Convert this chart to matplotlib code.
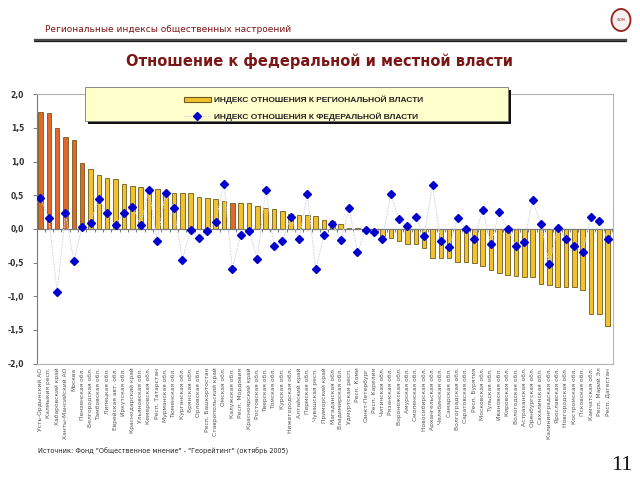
import numpy as np
import matplotlib
matplotlib.use("Agg")
import matplotlib.pyplot as plt
from matplotlib.patches import Rectangle, Ellipse
from matplotlib.lines import Line2D

regions = [
    "Усть-Ордынский АО", "Калмыкия респ.", "Хабаровский край", "Ханты-Мансийский АО", "Москва",
    "Пензенская обл.", "Белгородская обл.", "Тамбовская обл.", "Липецкая обл.", "Еврейская авт. обл.",
    "Иркутская обл.", "Краснодарский край", "Ульяновская обл.", "Кемеровская обл.", "Респ. Татарстан",
    "Мурманская обл.", "Тюменская обл.", "Курганская обл.", "Брянская обл.", "Орловская обл.",
    "Респ. Башкортостан", "Ставропольский край", "Омская обл.", "Калужская обл.", "Респ. Мордовия",
    "Красноярский край", "Ростовская обл.", "Тверская обл.", "Томская обл.", "Курская обл.",
    "Нижегородская обл.", "Алтайский край", "Пермская обл.", "Чувашская респ.", "Приморский край",
    "Магаданская обл.", "Владимирская обл.", "Удмуртская респ.", "Респ. Коми", "Санкт-Петербург",
    "Респ. Карелия", "Читинская обл.", "Рязанская обл.", "Воронежская обл.", "Амурская обл.",
    "Смоленская обл.", "Новосибирская обл.", "Архангельская обл.", "Челябинская обл.", "Самарская обл.",
    "Волгоградская обл.", "Саратовская обл.", "Респ. Бурятия", "Московская обл.", "Тульская обл.",
    "Ивановская обл.", "Кировская обл.", "Вологодская обл.", "Астраханская обл.", "Оренбургская обл.",
    "Сахалинская обл.", "Калининградская обл.", "Ярославская обл.", "Новгородская обл.", "Костромская обл.",
    "Псковская обл.", "Камчатская обл.", "Респ. Марий Эл", "Респ. Дагестан",
]

regional_index = [
    1.73, 1.72, 1.50, 1.36, 1.32, 0.98, 0.89, 0.80, 0.76, 0.74,
    0.66, 0.64, 0.63, 0.60, 0.59, 0.545, 0.54, 0.53, 0.53, 0.475,
    0.465, 0.45, 0.41, 0.385, 0.385, 0.38, 0.34, 0.31, 0.30, 0.27,
    0.22, 0.20, 0.20, 0.19, 0.13, 0.11, 0.08, 0.02, 0.01, -0.01,
    -0.05, -0.10, -0.13, -0.18, -0.22, -0.22, -0.28, -0.43, -0.43, -0.435,
    -0.485, -0.495, -0.51, -0.555, -0.61, -0.65, -0.69, -0.70, -0.71, -0.71,
    -0.82, -0.84, -0.86, -0.87, -0.87, -0.91, -1.26, -1.27, -1.44,
]

federal_index = [
    0.455, 0.16, -0.94, 0.23, -0.475, 0.03, 0.094, 0.45, 0.23, 0.055,
    0.24, 0.33, 0.065, 0.58, -0.18, 0.54, 0.31, -0.465, -0.01, -0.14,
    -0.035, 0.10, 0.67, -0.59, -0.085, -0.035, -0.445, 0.58, -0.26, -0.18,
    0.18, -0.15, 0.525, -0.60, -0.09, 0.08, -0.17, 0.31, -0.35, -0.01,
    -0.05, -0.155, 0.515, 0.14, 0.04, 0.17, -0.11, 0.65, -0.18, -0.27,
    0.16, 0.0, -0.155, 0.28, -0.23, 0.25, 0.0, -0.25, -0.19, 0.43,
    0.07, -0.525, 0.015, -0.15, -0.26, -0.34, 0.18, 0.12, -0.15,
]

highlighted = [0, 1, 2, 3, 4, 5, 23]

y_ticks = [2.0, 1.5, 1.0, 0.5, 0.0, -0.5, -1.0, -1.5, -2.0]
y_tick_labels = ["2,0", "1,5", "1,0", "0,5", "0,0", "-0,5", "-1,0", "-1,5", "-2,0"]

legend_labels = ["ИНДЕКС ОТНОШЕНИЯ К РЕГИОНАЛЬНОЙ ВЛАСТИ",
                 "ИНДЕКС ОТНОШЕНИЯ К ФЕДЕРАЛЬНОЙ ВЛАСТИ"]

header = "Региональные индексы общественных настроений"
title = "Отношение к федеральной и местной власти"
source = "Источник: Фонд \"Общественное мнение\" - \"Георейтинг\" (октябрь 2005)"
page = "11"

YELLOW = "#F2C22E"
ORANGE = "#E2672A"
EDGE = "#6E5C1E"
BLUE = "#0000CC"
MAROON = "#7A1616"

fig = plt.figure(figsize=(6.4, 4.8), dpi=100)
fig.patch.set_facecolor("white")

# header
fig.text(45 / 640, 1 - 30 / 480, header, fontsize=6.5, color=MAROON,
         family="DejaVu Sans", va="center", ha="left")
fig.add_artist(Line2D([35 / 640, 625 / 640], [1 - 39.5 / 480] * 2, color="#4a4a4a", lw=2.4))
fig.add_artist(Line2D([35 / 640, 625 / 640], [1 - 41 / 480] * 2, color="#111111", lw=0.6))
fig.add_artist(Ellipse((621 / 640, 1 - 20 / 480), 19 / 640, 22 / 480, facecolor="#f6f0f0",
                       edgecolor="#9a2a2a", lw=1.4))
fig.text(621 / 640, 1 - 20 / 480, "ФОМ", fontsize=2.5, color="#9a2a2a", ha="center", va="center")

fig.text(320 / 640, 1 - 61 / 480, title, fontsize=10.5, fontweight="bold", color=MAROON,
         family="DejaVu Sans", ha="center", va="center")

ax = fig.add_axes([36.7 / 640, 1 - 363.5 / 480, 576 / 640, 269.2 / 480])
x = np.arange(len(regional_index))
colors = [ORANGE if i in highlighted else YELLOW for i in x]
bars = ax.bar(x, regional_index, width=0.55, color=colors, edgecolor=EDGE, linewidth=0.6, zorder=2)
line, = ax.plot(x, federal_index, color="#d3d8e4", lw=0.7, ls=(0, (2, 1)), marker="D", ms=3.9,
                mfc=BLUE, mec=BLUE, zorder=4)

ax.axhline(0, color="#7a7a7a", lw=0.9, zorder=3)
ax.vlines(x + 0.5, -0.045, 0, color="#7a7a7a", lw=0.7, zorder=3)

ax.set_xlim(-0.45, len(x) - 0.4)
ax.set_ylim(-2, 2)
ax.set_yticks(y_ticks)
ax.set_yticklabels(y_tick_labels, fontsize=5.5, fontweight="bold", color="#333333")
ax.tick_params(axis="y", length=3, width=0.7, color="#7a7a7a", pad=6)
ax.set_xticks(x)
ax.set_xticklabels(regions, rotation=90, fontsize=4.3, color="#555555", va="top")
ax.tick_params(axis="x", length=0, pad=3)
for s in ["top", "right", "bottom"]:
    ax.spines[s].set_color("#b5b5b5")
    ax.spines[s].set_linewidth(0.8)
ax.spines["left"].set_color("#7a7a7a")
ax.spines["left"].set_linewidth(0.8)

# legend box with shadow
bx0, by0, bw, bh = 85 / 640, 1 - 121 / 480, 423 / 640, 34 / 480
fig.add_artist(Rectangle((bx0 + 3 / 640, by0 - 3 / 480), bw, bh, transform=fig.transFigure,
                         facecolor="#111111", edgecolor="none", zorder=5))
fig.add_artist(Rectangle((bx0, by0), bw, bh, transform=fig.transFigure,
                         facecolor="#FFFFCC", edgecolor="#777777", lw=0.6, zorder=6))
bar_handle = Rectangle((0, 0), 1, 1, facecolor=YELLOW, edgecolor=EDGE, lw=0.8)
leg = fig.legend([bar_handle, line], legend_labels, loc="upper left",
                 bbox_to_anchor=(176 / 640, 1 - 88 / 480), frameon=False, numpoints=1,
                 handlelength=3.3, handleheight=0.55, handletextpad=0.35, labelspacing=1.05,
                 prop={"family": "Liberation Sans", "weight": "bold", "size": 6})
leg.set_zorder(7)
for t in leg.get_texts():
    t.set_color("#222222")

fig.text(38 / 640, 1 - 451 / 480, source, fontsize=4.7, color="#222222", ha="left", va="center")
fig.text(632 / 640, 1 - 465 / 480, page, fontsize=16, family="Liberation Serif",
         color="#111111", ha="right", va="center")

fig.savefig("out.png", dpi=100)
